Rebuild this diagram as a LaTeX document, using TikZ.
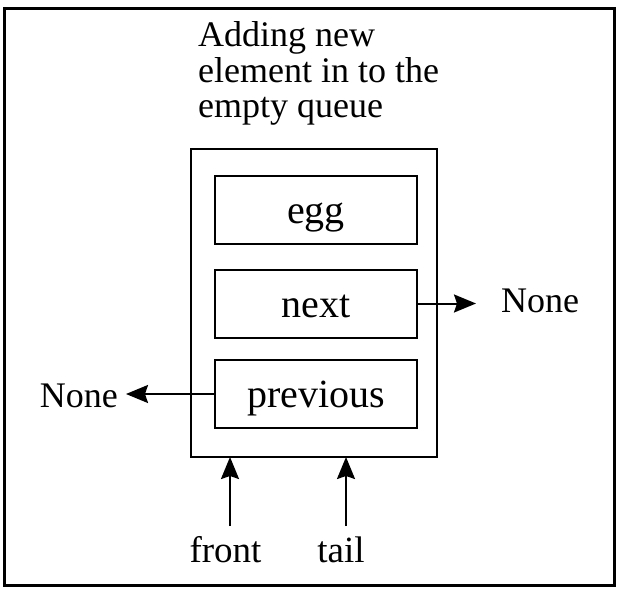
\documentclass[tikz,border=0pt]{standalone}
\usepackage{fontspec}
\setmainfont{Liberation Serif}
\usetikzlibrary{arrows.meta}
\begin{document}
\begin{tikzpicture}[x=1pt,y=-1pt,
  field/.style={draw, line width=2pt, minimum width=202pt, minimum height=68pt, inner sep=0pt,
    font=\fontsize{40}{40}\selectfont, text height=30pt, text depth=3pt},
  lbl/.style={inner sep=0pt, font=\fontsize{36}{36}\selectfont},
  ptr/.style={line width=2pt, -{Stealth[length=22pt, width=18pt, inset=3pt]}}]
\useasboundingbox (0,0) rectangle (620,593);
\draw[line width=3pt] (4,9) rectangle (614,585);
\node[anchor=base west, inner sep=0pt, align=left, font=\fontsize{36}{35.5}\selectfont] (title) at (198,118)
  {Adding new\\element in to the\\empty queue};
\node[draw, line width=2pt, minimum width=246pt, minimum height=308pt, inner sep=0pt] (cont) at (314,303) {};
\node[field] (egg) at (316,210) {egg};
\node[field] (next) at (316,303.5) {next};
\node[field] (prev) at (316,394) {previous};
\node[lbl, anchor=base west] (noneR) at (501,312) {None};
\node[lbl, anchor=base east] (noneL) at (118,407) {None};
\node[lbl, anchor=base, font=\fontsize{37}{37}\selectfont] (front) at (225.5,562) {front};
\node[lbl, anchor=base, font=\fontsize{37}{37}\selectfont] (tail) at (341,562) {tail};
\coordinate (nr) at (476,303.5);
\coordinate (pl) at (126,394);
\coordinate (fa) at (230,526);
\coordinate (ta) at (346,526);
\coordinate (fb) at (230,457);
\coordinate (tb) at (346,457);
\draw[ptr] (next.east) -- (nr);
\draw[ptr] (prev.west) -- (pl);
\draw[ptr] (fa) -- (fb);
\draw[ptr] (ta) -- (tb);
\end{tikzpicture}
\end{document}
